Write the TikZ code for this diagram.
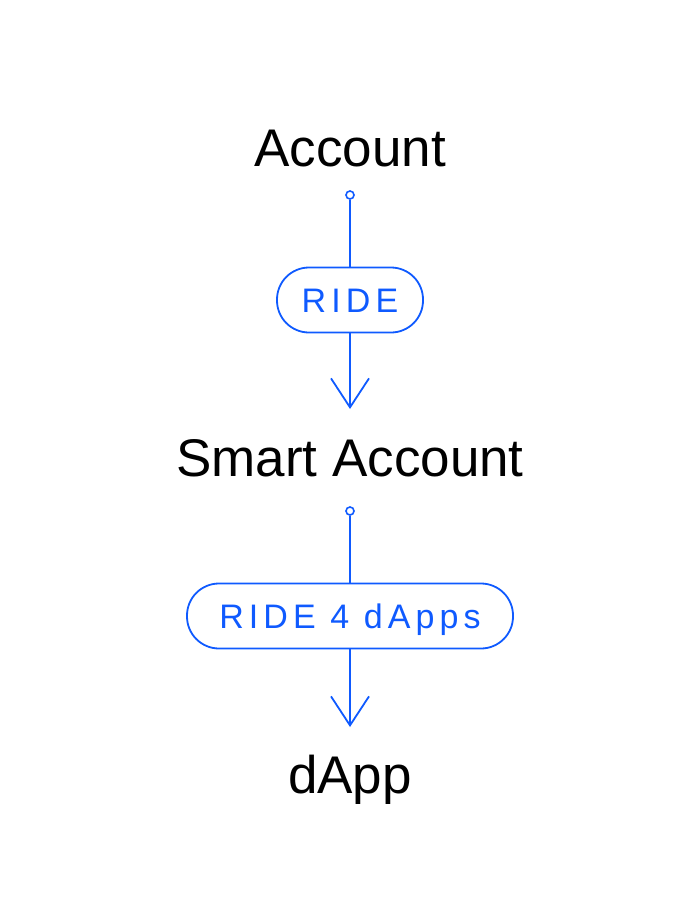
\documentclass[tikz,border=0pt]{standalone}
\usepackage{fontspec}
\setmainfont{Liberation Sans}
\newfontfamily\spacedfont[LetterSpace=15]{Liberation Sans}
\usetikzlibrary{arrows.meta}
\definecolor{ridblue}{RGB}{15,90,255}
\tikzset{
  title/.style={anchor=base, inner sep=0pt, text=black, font=\fontsize{53}{62}\selectfont},
  pill/.style={draw=ridblue, line width=1.8pt, rounded corners=32pt, minimum height=65pt,
    inner sep=0pt, text=ridblue, text height=24.3pt, text depth=0pt,
    font=\spacedfont\fontsize{34}{40}\selectfont},
  dot/.style={circle, draw=ridblue, line width=1.6pt, minimum size=8pt, inner sep=0pt},
  conn/.style={draw=ridblue, line width=1.8pt},
  arr/.style={conn, -{Straight Barb[length=29pt, width=38pt, line width=1.8pt]}}
}
\begin{document}
\begin{tikzpicture}[x=1pt, y=-1pt]
\useasboundingbox (0,0) rectangle (700,921);
\node[title] (acc) at (350,166) {Account};
\node[dot] (o1) at (350,195) {};
\node[pill, minimum width=146pt] (r1) at (350,300) {RIDE};
\coordinate (t1) at (350,409);
\node[title] (smart) at (350,476) {Smart Account};
\node[dot] (o2) at (350,511) {};
\node[pill, minimum width=326pt] (r2) at (350,616) {RIDE 4 dApps};
\coordinate (t2) at (350,727);
\node[title] (dapp) at (350,793) {dApp};
\draw[conn] (o1.south) -- (r1.north);
\draw[arr] (r1.south) -- (t1);
\draw[conn] (o2.south) -- (r2.north);
\draw[arr] (r2.south) -- (t2);
\end{tikzpicture}
\end{document}
